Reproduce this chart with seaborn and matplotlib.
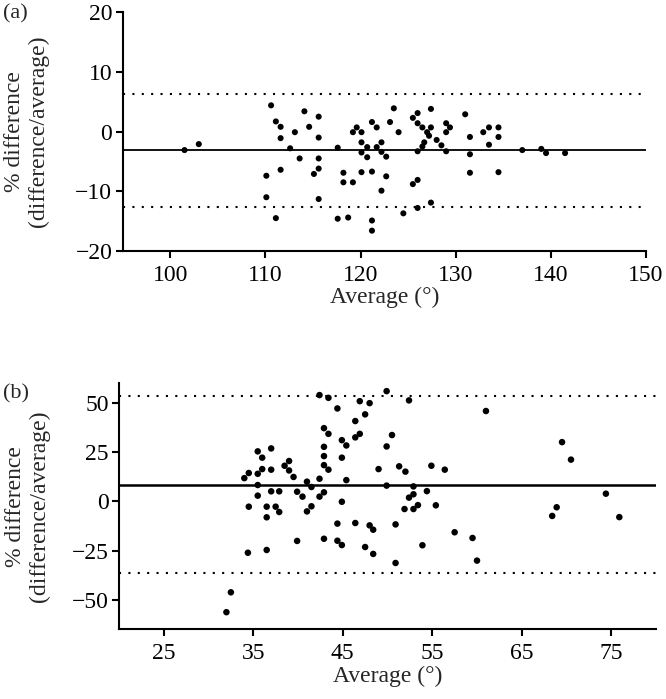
import numpy as np
import pandas as pd
import matplotlib
matplotlib.use("Agg")
import matplotlib.pyplot as plt
import seaborn as sns

# panel (a): average vs % difference
a_avg = [101.5, 103.0, 110.6, 111.1, 111.6, 111.6, 111.6, 110.1, 110.1, 111.1,
         112.6, 113.1, 113.6, 114.1, 114.6, 115.6, 115.6, 115.6, 115.6, 115.1,
         115.6, 117.6, 117.6, 118.2, 118.2, 118.7, 119.2, 119.2, 119.6, 120.1,
         120.1, 120.1, 120.1, 120.7, 120.7, 121.2, 121.2, 121.2, 121.2, 121.7,
         121.7, 122.2, 122.2, 122.2, 122.7, 122.7, 123.1,
         123.5, 124.0, 124.5, 125.5, 126.0, 126.0, 126.5, 127.0, 127.4, 127.4,
         127.2, 126.7, 128.0, 128.5, 129.0, 126.0, 126.5, 125.5, 126.0, 126.0,
         127.4, 129.0, 129.0, 129.4, 131.0, 131.5, 131.5, 131.5, 132.9, 133.5,
         133.5, 134.5, 134.5, 134.5, 137.0, 139.0, 139.5, 141.5]
a_diff = [-3.1, -2.1, 4.4, 1.7, 0.8, -1.1, -6.4, -7.4, -11.0, -14.5,
          -2.8, -0.1, -4.5, 3.4, 0.8, 2.5, -1.0, -4.5, -6.2, -7.1,
          -11.3, -2.7, -14.6, -6.9, -8.5, -14.4, -8.5, -0.1, 0.7, -0.1,
          -1.8, -3.5, -6.8, -2.6, -4.3, 1.6, -6.7, -14.9, -16.6, 0.7,
          -2.6, -1.8, -3.4, -9.9, -4.2, -7.5, 1.6,
          3.9, -0.1, -13.7, 2.3, 3.1, 1.4, 0.7, -0.1, 3.8, 0.7,
          -0.7, -1.8, -1.4, -2.3, -3.3, -3.3, -2.5, -8.8, -8.1, -12.8,
          -11.9, 1.4, -0.1, 0.7, 2.9, -0.9, -3.8, -6.9, -0.1, 0.7,
          -2.2, 0.7, -0.9, -6.8, -3.1, -2.9, -3.6, -3.6]
a_mean, a_upper, a_lower = -3.1, 6.3, -12.6

# panel (b)
b_avg = [34.0, 34.5, 35.5, 36.0, 35.5, 36.0, 37.0, 37.0, 35.5, 35.5,
         34.5, 36.5, 36.5, 37.0, 37.5, 37.9, 37.9, 34.4, 36.5, 38.5,
         39.0, 39.0, 39.5, 39.9, 40.5, 41.0, 41.5, 41.5, 41.0, 39.9,
         42.4, 42.4, 42.9, 42.9, 42.4, 43.4, 42.9, 43.4, 42.9, 42.9,
         42.9, 43.4, 44.4, 44.9, 45.4, 44.9, 45.4, 44.9, 44.4, 44.4,
         44.9, 46.4, 46.9, 47.5, 48.0, 46.4, 46.9, 46.4, 48.0, 48.4,
         47.5, 48.4, 49.9, 50.5, 49.9, 49.0, 49.9, 50.9, 50.9, 51.3,
         52.4, 52.0, 52.9, 52.9, 52.4, 53.4, 52.9, 51.9, 54.4, 54.9,
         56.4, 55.4, 53.9, 57.5, 59.5, 60.0, 61.0, 68.4, 68.9, 69.5,
         70.5, 74.4, 75.9, 32.0, 32.5]
b_diff = [11.8, 14.4, 25.4, 22.2, 14.0, 16.4, 26.9, 16.1, 8.3, 2.9,
          -2.7, -2.7, -8.1, 5.1, -2.7, 5.1, -5.4, -26.1, -24.7, 18.1,
          20.5, 15.7, 12.4, 4.9, 2.4, 10.0, 7.3, -2.5, -5.1, -20.1,
          11.5, 2.4, 4.6, -19.0, 54.0, 52.6, 37.2, 34.3, 27.7, 23.0,
          18.4, 16.1, 47.2, 31.1, 28.4, 22.2, 10.8, -0.2, -11.3, -20.0,
          -22.2, 40.8, 50.9, 44.2, 49.9, 32.5, 34.3, -11.0, -12.2, -14.4,
          -23.2, -26.7, 56.0, 33.7, 27.9, 16.4, 8.0, -11.7, -31.3, 17.8,
          51.3, 15.1, 7.6, 3.6, 1.9, -1.9, -3.9, -3.9, 5.2, 18.1,
          16.1, -2.0, -22.3, -15.7, -18.6, -30.1, 45.9, -7.4, -3.0, 30.1,
          21.2, 3.9, -8.0, -56.3, -46.2]
b_mean, b_upper, b_lower = 8.3, 53.6, -36.4

df_a = pd.DataFrame({"avg": a_avg, "diff": a_diff})
df_b = pd.DataFrame({"avg": b_avg, "diff": b_diff})

sns.set_style("ticks")
plt.rcParams["font.family"] = ["Liberation Serif", "DejaVu Serif"]
plt.rcParams["font.size"] = 17

fig = plt.figure(figsize=(6.66, 6.99), dpi=100)
ax_a = fig.add_axes([0.1842, 0.641, 0.7857, 0.3415])
ax_b = fig.add_axes([0.1787, 0.0997, 0.8063, 0.352])

dots = (0, (1, 3.5))

# (a)
sns.scatterplot(data=df_a, x="avg", y="diff", ax=ax_a, color="black",
                s=19, edgecolor="none", zorder=3)
ax_a.axhline(a_mean, color="black", lw=1.3)
ax_a.axhline(a_upper, color="black", lw=1.5, ls=dots)
ax_a.axhline(a_lower, color="black", lw=1.5, ls=dots)
ax_a.set_xlim(95, 150)
ax_a.set_ylim(-20, 20)
ax_a.set_xticks([100, 110, 120, 130, 140, 150])
ax_a.set_yticks([-20, -10, 0, 10, 20])

# (b)
sns.scatterplot(data=df_b, x="avg", y="diff", ax=ax_b, color="black",
                s=22, edgecolor="none", zorder=3)
ax_b.axhline(b_mean, color="black", lw=1.8)
ax_b.axhline(b_upper, color="black", lw=1.5, ls=dots)
ax_b.axhline(b_lower, color="black", lw=1.5, ls=dots)
ax_b.set_xlim(20, 80)
ax_b.set_ylim(-65, 60)
ax_b.set_xticks([25, 35, 45, 55, 65, 75])
ax_b.set_yticks([-50, -25, 0, 25, 50])

for ax, lx in [(ax_a, -0.14), (ax_b, -0.128)]:
    sns.despine(ax=ax)
    for side in ["left", "bottom"]:
        ax.spines[side].set_linewidth(1.5)
        ax.spines[side].set_color("black")
    ax.tick_params(axis="both", width=1.5, length=5, color="black",
                   labelsize=17, labelcolor="black")
    ax.tick_params(axis="x", pad=5)
    ax.tick_params(axis="y", pad=2.5)
    ax.set_xlabel("Average (°)", fontsize=17, labelpad=1)
    ax.set_ylabel("% difference\n(difference/average)", fontsize=17,
                  linespacing=1.2)
    ax.yaxis.set_label_coords(lx, 0.5)

# panel letters
fig.text(0.004, 1 - 4 / 699, "(a)", fontsize=16, va="top", ha="left")
fig.text(0.004, 1 - 384 / 699, "(b)", fontsize=16, va="top", ha="left")

fig.savefig("out.png", dpi=100)
